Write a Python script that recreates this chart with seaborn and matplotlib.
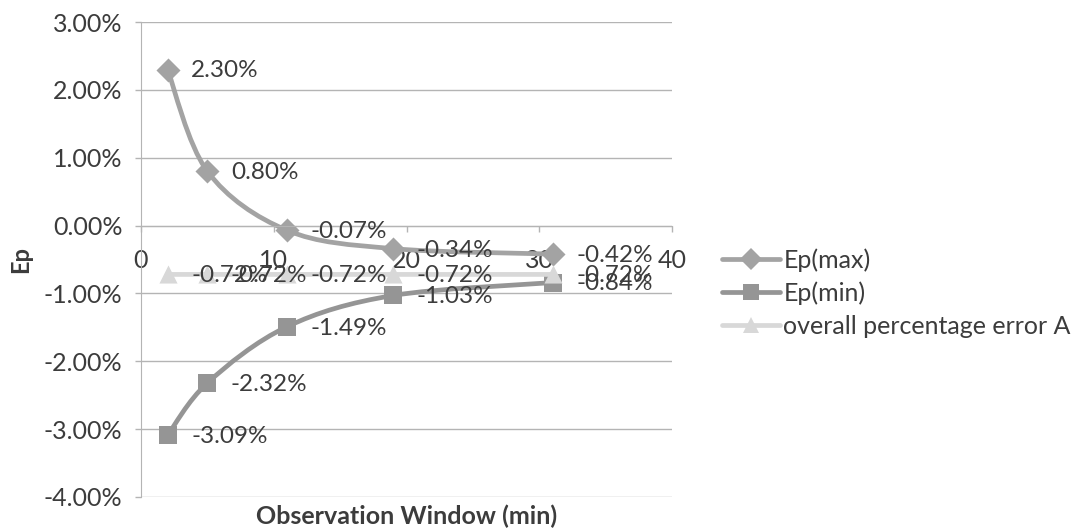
import numpy as np
import pandas as pd
import matplotlib
matplotlib.use("Agg")
import matplotlib.pyplot as plt
from matplotlib.path import Path
from matplotlib.patches import PathPatch
from matplotlib.lines import Line2D
from matplotlib.ticker import FuncFormatter, FixedLocator
import seaborn as sns

# Observation window lengths (min) and percentage errors (%)
window_min = [2, 5, 11, 19, 31]
ep_max = [2.30, 0.80, -0.07, -0.34, -0.42]
ep_min = [-3.09, -2.32, -1.49, -1.03, -0.84]
overall_a = [-0.72, -0.72, -0.72, -0.72, -0.72]
series_names = ["Ep(max)", "Ep(min)", "overall percentage error A"]
y_ticks = [3, 2, 1, 0, -1, -2, -3, -4]
x_ticks = [0, 10, 20, 30, 40]

sns.set_style("white")
plt.rcParams["font.family"] = ["Lato", "DejaVu Sans"]

TEXT = "#3c3c3c"
GRID = "#b4b4b4"
styles = {
    "Ep(max)": dict(color="#a3a3a3", marker="D", s=150),
    "Ep(min)": dict(color="#959595", marker="s", s=150),
    "overall percentage error A": dict(color="#d8d8d8", marker="^", s=170),
}

df = pd.DataFrame({
    "window": window_min * 3,
    "value": ep_max + ep_min + overall_a,
    "series": np.repeat(series_names, len(window_min)),
})

fig = plt.figure(figsize=(10.8, 5.32), dpi=100)
ax = fig.add_axes([141 / 1080, 1 - 497 / 532, (672 - 141) / 1080, (497 - 22) / 532])


def smooth_path(xs, ys):
    """Cubic Bezier path through the points (Catmull-Rom style smoothing)."""
    pts = np.column_stack([xs, ys]).astype(float)
    n = len(pts)
    verts = [pts[0]]
    codes = [Path.MOVETO]
    for i in range(n - 1):
        p0 = pts[i - 1] if i > 0 else pts[i]
        p1, p2 = pts[i], pts[i + 1]
        p3 = pts[i + 2] if i + 2 < n else pts[i + 1]
        verts += [p1 + (p2 - p0) / 6, p2 - (p3 - p1) / 6, p2]
        codes += [Path.CURVE4] * 3
    return Path(verts, codes)


for k, name in enumerate(series_names):
    sub = df[df["series"] == name]
    st = styles[name]
    ax.add_patch(PathPatch(smooth_path(sub["window"], sub["value"]), fill=False,
                           edgecolor=st["color"], lw=3.4, capstyle="round",
                           joinstyle="round", zorder=2 + k))
    sns.scatterplot(data=sub, x="window", y="value", marker=st["marker"],
                    color=st["color"], s=st["s"], linewidth=0, ax=ax,
                    zorder=2.5 + k, legend=False)

# value labels to the right of each point
for name in series_names:
    sub = df[df["series"] == name]
    for xv, yv in zip(sub["window"], sub["value"]):
        ax.annotate(f"{yv:.2f}%", (xv, yv), xytext=(17, -1),
                    textcoords="offset points", ha="left", va="center",
                    fontsize=17.5, color=TEXT, zorder=10)

ax.set_xlim(0, 40)
ax.set_ylim(-4, 3)
ax.xaxis.set_major_locator(FixedLocator(x_ticks))
ax.yaxis.set_major_locator(FixedLocator(y_ticks))
ax.yaxis.set_major_formatter(FuncFormatter(lambda v, p: f"{v:.2f}%"))

ax.grid(axis="y", color=GRID, lw=1.0)
ax.grid(axis="x", visible=False)
for side in ("top", "right"):
    ax.spines[side].set_visible(False)
ax.spines["left"].set_color(GRID)
ax.spines["bottom"].set_color(GRID)
ax.spines["bottom"].set_position(("data", 0))

ax.tick_params(axis="x", direction="out", length=4, width=1, color=GRID,
               pad=13, labelsize=18, labelcolor=TEXT)
ax.tick_params(axis="y", direction="out", length=4.5, width=1, color=GRID,
               pad=9, labelsize=18, labelcolor=TEXT)
ax.tick_params(axis="x", bottom=True)
ax.tick_params(axis="y", left=True)

ax.set_xlabel("Observation Window (min)", fontsize=18, fontweight="bold", color=TEXT)
ax.xaxis.set_label_coords(0.5, -0.016)
ax.set_ylabel("Ep", fontsize=17, fontweight="bold", color=TEXT)
ax.yaxis.set_label_coords(-0.205, 0.5)

handles = [Line2D([], [], color=styles[n]["color"], lw=3.4, marker=styles[n]["marker"],
                  markersize=11 if styles[n]["marker"] != "^" else 12, markeredgewidth=0)
           for n in series_names]
fig.legend(handles, series_names, loc="center left",
           bbox_to_anchor=(722 / 1080, 1 - 293 / 532), frameon=False,
           fontsize=18, labelcolor=TEXT, handlelength=2.3, handletextpad=0.15,
           labelspacing=0.4, borderpad=0, borderaxespad=0)

fig.savefig("out.png", dpi=100)
